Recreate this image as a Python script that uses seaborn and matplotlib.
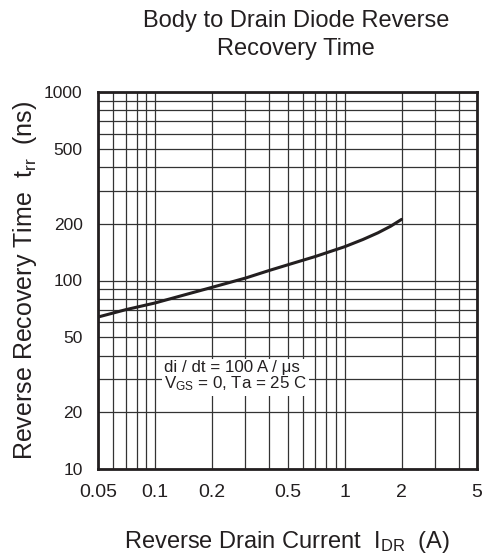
import matplotlib
matplotlib.use("Agg")
import matplotlib.pyplot as plt
import seaborn as sns
import pandas as pd
from matplotlib.ticker import FixedLocator, LogLocator, NullFormatter

# === Data ===
drain_current = [0.05, 0.07, 0.1, 0.15, 0.2, 0.3, 0.4, 0.5, 0.7, 1.0, 1.25, 1.5, 1.75, 2.0]
recovery_time = [64, 70, 76, 85, 92, 103, 113, 121, 134, 151, 165, 179, 194, 211]

x_ticks = [0.05, 0.1, 0.2, 0.5, 1, 2, 5]
x_tick_labels = ["0.05", "0.1", "0.2", "0.5", "1", "2", "5"]
y_ticks = [10, 20, 50, 100, 200, 500, 1000]
y_tick_labels = ["10", "20", "50", "100", "200", "500", "1000"]

df = pd.DataFrame({"I_DR": drain_current, "trr": recovery_time})

# === Style ===
sns.set_style("white")
plt.rcParams["font.family"] = ["Liberation Sans", "DejaVu Sans"]
plt.rcParams["mathtext.fontset"] = "custom"
plt.rcParams["mathtext.rm"] = "Liberation Sans"
plt.rcParams["mathtext.it"] = "Liberation Sans"
plt.rcParams["mathtext.default"] = "regular"
text_color = "#231f20"

fig = plt.figure(figsize=(4.84, 5.6), dpi=100)
fig.subplots_adjust(left=98 / 484, right=477 / 484, top=1 - 92 / 560, bottom=1 - 469 / 560)
ax = fig.add_subplot(111)

sns.lineplot(data=df, x="I_DR", y="trr", color=text_color, linewidth=2.2, ax=ax)

ax.set_xscale("log")
ax.set_yscale("log")
ax.set_xlim(0.05, 5)
ax.set_ylim(10, 1000)

# grid: every 1..9 step of each decade
ax.xaxis.set_major_locator(FixedLocator(x_ticks))
ax.yaxis.set_major_locator(FixedLocator(y_ticks))
ax.xaxis.set_minor_locator(LogLocator(base=10, subs=range(1, 10), numticks=20))
ax.yaxis.set_minor_locator(LogLocator(base=10, subs=range(1, 10), numticks=20))
ax.xaxis.set_minor_formatter(NullFormatter())
ax.yaxis.set_minor_formatter(NullFormatter())
ax.set_xticklabels(x_tick_labels)
ax.set_yticklabels(y_tick_labels)
ax.grid(True, which="both", color="#333333", linewidth=0.9)
ax.tick_params(which="both", length=0, colors=text_color)
ax.tick_params(axis="x", labelsize=14, pad=11)
ax.tick_params(axis="y", labelsize=12.5, pad=11)

for spine in ax.spines.values():
    spine.set_color(text_color)
    spine.set_linewidth(2.0)

ax.set_xlabel("Reverse Drain Current  I$_{DR}$  (A)", fontsize=17, color=text_color, labelpad=20)
ax.set_ylabel("Reverse Recovery Time  t$_{rr}$  (ns)", fontsize=18, color=text_color, labelpad=4)

fig.text(296 / 484, 1 - 35 / 560, "Body to Drain Diode Reverse\nRecovery Time",
         ha="center", va="center", fontsize=17, color=text_color, linespacing=1.35)

ax.text(0.175, 0.245, "di / dt = 100 A / \u03bcs\nV$_{GS}$ = 0, Ta = 25 C",
        transform=ax.transAxes, fontsize=12.2, color=text_color, va="center", ha="left",
        linespacing=1.0,
        bbox=dict(facecolor="white", edgecolor="none", pad=1.5))

fig.savefig("out.png", dpi=100)
